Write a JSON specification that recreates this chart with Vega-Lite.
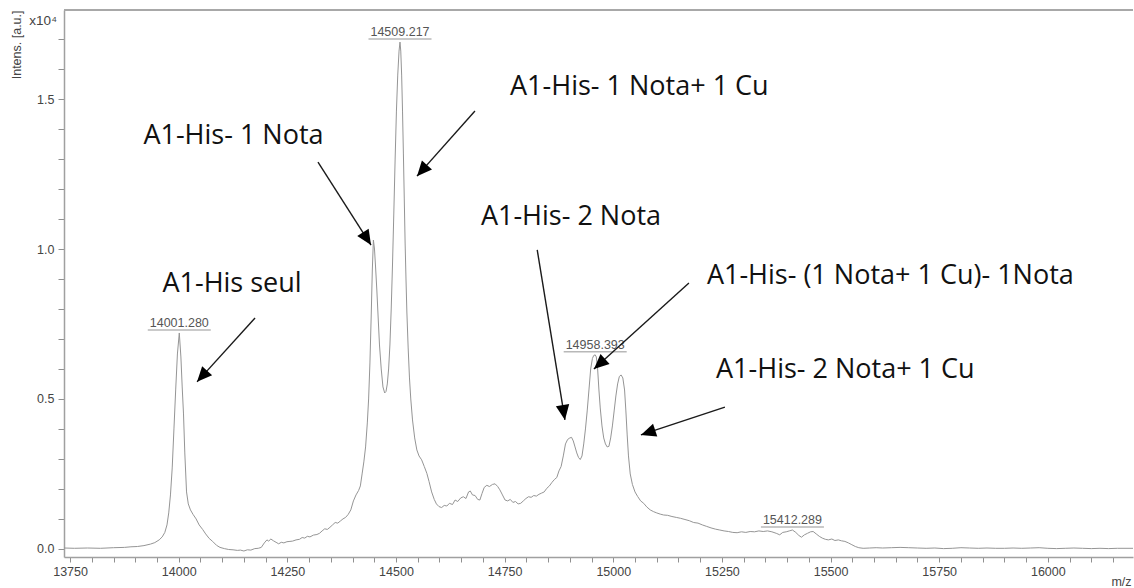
{
  "$schema": "https://vega.github.io/schema/vega-lite/v6.json",
  "width": 1069,
  "height": 547,
  "autosize": "none",
  "padding": {"left": 64, "top": 10, "right": 1, "bottom": 31},
  "background": "white",
  "config": {
    "view": {"stroke": null},
    "axis": {
      "grid": false,
      "labelOverlap": false,
      "domainColor": "#a0a0a0",
      "domainWidth": 1.5,
      "tickColor": "#909090",
      "labelColor": "#444444",
      "labelFont": "Liberation Sans",
      "labelFontSize": 12.5,
      "titleFont": "Liberation Sans",
      "titleFontSize": 12.5,
      "titleFontWeight": "normal",
      "titleColor": "#444444"
    }
  },
  "datasets": {
    "spectrum": [
      {"mz": 13736, "i": 0.003}, {"mz": 13760, "i": 0.002}, {"mz": 13790, "i": 0.003}, {"mz": 13820, "i": 0.002},
      {"mz": 13850, "i": 0.004}, {"mz": 13875, "i": 0.005}, {"mz": 13890, "i": 0.007}, {"mz": 13905, "i": 0.008},
      {"mz": 13920, "i": 0.011}, {"mz": 13935, "i": 0.016}, {"mz": 13945, "i": 0.021}, {"mz": 13955, "i": 0.03},
      {"mz": 13962, "i": 0.04}, {"mz": 13968, "i": 0.055}, {"mz": 13973, "i": 0.08}, {"mz": 13977, "i": 0.12},
      {"mz": 13981, "i": 0.18}, {"mz": 13985, "i": 0.27}, {"mz": 13989, "i": 0.4}, {"mz": 13993, "i": 0.53},
      {"mz": 13997, "i": 0.65}, {"mz": 14001.3, "i": 0.72}, {"mz": 14005, "i": 0.64}, {"mz": 14008, "i": 0.54},
      {"mz": 14011, "i": 0.45}, {"mz": 14014, "i": 0.32}, {"mz": 14018, "i": 0.19}, {"mz": 14022, "i": 0.15},
      {"mz": 14027, "i": 0.13}, {"mz": 14033, "i": 0.115}, {"mz": 14040, "i": 0.1}, {"mz": 14047, "i": 0.08},
      {"mz": 14055, "i": 0.065}, {"mz": 14062, "i": 0.05}, {"mz": 14070, "i": 0.035}, {"mz": 14078, "i": 0.025},
      {"mz": 14087, "i": 0.012}, {"mz": 14095, "i": 0.005}, {"mz": 14105, "i": 0.001}, {"mz": 14115, "i": -0.002},
      {"mz": 14125, "i": -0.003}, {"mz": 14135, "i": -0.005}, {"mz": 14142, "i": -0.004}, {"mz": 14150, "i": -0.007},
      {"mz": 14158, "i": -0.003}, {"mz": 14166, "i": -0.004}, {"mz": 14175, "i": 0.001}, {"mz": 14183, "i": 0.002},
      {"mz": 14190, "i": 0.005}, {"mz": 14197, "i": 0.02}, {"mz": 14203, "i": 0.03}, {"mz": 14207, "i": 0.026},
      {"mz": 14212, "i": 0.033}, {"mz": 14218, "i": 0.027}, {"mz": 14224, "i": 0.022}, {"mz": 14230, "i": 0.017},
      {"mz": 14236, "i": 0.022}, {"mz": 14242, "i": 0.02}, {"mz": 14249, "i": 0.024}, {"mz": 14256, "i": 0.025},
      {"mz": 14262, "i": 0.026}, {"mz": 14270, "i": 0.03}, {"mz": 14278, "i": 0.032}, {"mz": 14284, "i": 0.038},
      {"mz": 14290, "i": 0.036}, {"mz": 14296, "i": 0.042}, {"mz": 14302, "i": 0.04}, {"mz": 14310, "i": 0.046},
      {"mz": 14318, "i": 0.048}, {"mz": 14324, "i": 0.052}, {"mz": 14330, "i": 0.06}, {"mz": 14336, "i": 0.067},
      {"mz": 14342, "i": 0.065}, {"mz": 14348, "i": 0.072}, {"mz": 14354, "i": 0.08}, {"mz": 14360, "i": 0.088},
      {"mz": 14366, "i": 0.086}, {"mz": 14372, "i": 0.093}, {"mz": 14378, "i": 0.1}, {"mz": 14384, "i": 0.105},
      {"mz": 14390, "i": 0.115}, {"mz": 14396, "i": 0.13}, {"mz": 14402, "i": 0.16}, {"mz": 14408, "i": 0.18},
      {"mz": 14414, "i": 0.195}, {"mz": 14418, "i": 0.21}, {"mz": 14422, "i": 0.25}, {"mz": 14426, "i": 0.29},
      {"mz": 14430, "i": 0.34}, {"mz": 14434, "i": 0.42}, {"mz": 14437, "i": 0.5}, {"mz": 14440, "i": 0.62},
      {"mz": 14443, "i": 0.78}, {"mz": 14445.5, "i": 0.93}, {"mz": 14448, "i": 1.03}, {"mz": 14450.5, "i": 1.0},
      {"mz": 14453, "i": 0.94}, {"mz": 14456, "i": 0.86}, {"mz": 14459, "i": 0.77}, {"mz": 14462, "i": 0.68},
      {"mz": 14466, "i": 0.6}, {"mz": 14470, "i": 0.54}, {"mz": 14474, "i": 0.52}, {"mz": 14477, "i": 0.525},
      {"mz": 14480, "i": 0.55}, {"mz": 14483, "i": 0.6}, {"mz": 14486, "i": 0.68}, {"mz": 14489, "i": 0.8},
      {"mz": 14492, "i": 0.95}, {"mz": 14495, "i": 1.12}, {"mz": 14498, "i": 1.3}, {"mz": 14501, "i": 1.46},
      {"mz": 14504, "i": 1.58}, {"mz": 14507, "i": 1.66}, {"mz": 14509.2, "i": 1.69}, {"mz": 14511, "i": 1.66},
      {"mz": 14513, "i": 1.58}, {"mz": 14515, "i": 1.46}, {"mz": 14517, "i": 1.32}, {"mz": 14519, "i": 1.17},
      {"mz": 14521, "i": 1.02}, {"mz": 14523, "i": 0.9}, {"mz": 14525, "i": 0.79}, {"mz": 14528, "i": 0.67},
      {"mz": 14531, "i": 0.57}, {"mz": 14534, "i": 0.5}, {"mz": 14538, "i": 0.43}, {"mz": 14543, "i": 0.37},
      {"mz": 14548, "i": 0.33}, {"mz": 14553, "i": 0.31}, {"mz": 14559, "i": 0.297}, {"mz": 14565, "i": 0.275},
      {"mz": 14571, "i": 0.252}, {"mz": 14576, "i": 0.225}, {"mz": 14582, "i": 0.19}, {"mz": 14588, "i": 0.165},
      {"mz": 14593, "i": 0.15}, {"mz": 14599, "i": 0.141}, {"mz": 14605, "i": 0.138}, {"mz": 14611, "i": 0.145},
      {"mz": 14617, "i": 0.143}, {"mz": 14623, "i": 0.152}, {"mz": 14630, "i": 0.148}, {"mz": 14636, "i": 0.163},
      {"mz": 14642, "i": 0.158}, {"mz": 14649, "i": 0.17}, {"mz": 14655, "i": 0.174}, {"mz": 14661, "i": 0.168},
      {"mz": 14667, "i": 0.19}, {"mz": 14671, "i": 0.193}, {"mz": 14676, "i": 0.18}, {"mz": 14682, "i": 0.178},
      {"mz": 14688, "i": 0.165}, {"mz": 14693, "i": 0.163}, {"mz": 14698, "i": 0.185}, {"mz": 14703, "i": 0.205},
      {"mz": 14709, "i": 0.212}, {"mz": 14715, "i": 0.208}, {"mz": 14722, "i": 0.215}, {"mz": 14728, "i": 0.217},
      {"mz": 14734, "i": 0.208}, {"mz": 14739, "i": 0.197}, {"mz": 14745, "i": 0.18}, {"mz": 14751, "i": 0.163},
      {"mz": 14757, "i": 0.16}, {"mz": 14763, "i": 0.165}, {"mz": 14769, "i": 0.155}, {"mz": 14775, "i": 0.158},
      {"mz": 14781, "i": 0.15}, {"mz": 14787, "i": 0.152}, {"mz": 14793, "i": 0.16}, {"mz": 14799, "i": 0.168},
      {"mz": 14805, "i": 0.174}, {"mz": 14811, "i": 0.172}, {"mz": 14817, "i": 0.178}, {"mz": 14823, "i": 0.176},
      {"mz": 14829, "i": 0.182}, {"mz": 14835, "i": 0.186}, {"mz": 14841, "i": 0.19}, {"mz": 14847, "i": 0.202},
      {"mz": 14853, "i": 0.21}, {"mz": 14859, "i": 0.222}, {"mz": 14865, "i": 0.232}, {"mz": 14870, "i": 0.238},
      {"mz": 14875, "i": 0.26}, {"mz": 14880, "i": 0.275}, {"mz": 14885, "i": 0.31}, {"mz": 14890, "i": 0.35},
      {"mz": 14895, "i": 0.365}, {"mz": 14900, "i": 0.37}, {"mz": 14904, "i": 0.372}, {"mz": 14908, "i": 0.36},
      {"mz": 14912, "i": 0.34}, {"mz": 14916, "i": 0.32}, {"mz": 14920, "i": 0.305}, {"mz": 14924, "i": 0.298},
      {"mz": 14928, "i": 0.31}, {"mz": 14932, "i": 0.35}, {"mz": 14936, "i": 0.4}, {"mz": 14940, "i": 0.46},
      {"mz": 14944, "i": 0.53}, {"mz": 14948, "i": 0.6}, {"mz": 14952, "i": 0.635}, {"mz": 14955, "i": 0.645},
      {"mz": 14958.4, "i": 0.647}, {"mz": 14961, "i": 0.64}, {"mz": 14964, "i": 0.6}, {"mz": 14967, "i": 0.53},
      {"mz": 14970, "i": 0.47}, {"mz": 14974, "i": 0.41}, {"mz": 14978, "i": 0.37}, {"mz": 14982, "i": 0.35},
      {"mz": 14986, "i": 0.34}, {"mz": 14990, "i": 0.342}, {"mz": 14994, "i": 0.37}, {"mz": 14998, "i": 0.41},
      {"mz": 15002, "i": 0.46}, {"mz": 15006, "i": 0.51}, {"mz": 15010, "i": 0.55}, {"mz": 15014, "i": 0.575},
      {"mz": 15018, "i": 0.58}, {"mz": 15022, "i": 0.57}, {"mz": 15026, "i": 0.53}, {"mz": 15029, "i": 0.46},
      {"mz": 15032, "i": 0.38}, {"mz": 15035, "i": 0.31}, {"mz": 15039, "i": 0.25}, {"mz": 15044, "i": 0.215},
      {"mz": 15050, "i": 0.19}, {"mz": 15056, "i": 0.175}, {"mz": 15063, "i": 0.16}, {"mz": 15070, "i": 0.152},
      {"mz": 15077, "i": 0.14}, {"mz": 15085, "i": 0.13}, {"mz": 15093, "i": 0.124}, {"mz": 15100, "i": 0.12},
      {"mz": 15108, "i": 0.116}, {"mz": 15116, "i": 0.113}, {"mz": 15125, "i": 0.112}, {"mz": 15135, "i": 0.108},
      {"mz": 15145, "i": 0.105}, {"mz": 15155, "i": 0.102}, {"mz": 15165, "i": 0.098}, {"mz": 15175, "i": 0.094},
      {"mz": 15185, "i": 0.088}, {"mz": 15195, "i": 0.086}, {"mz": 15205, "i": 0.08}, {"mz": 15215, "i": 0.075},
      {"mz": 15225, "i": 0.07}, {"mz": 15235, "i": 0.066}, {"mz": 15245, "i": 0.063}, {"mz": 15255, "i": 0.06},
      {"mz": 15265, "i": 0.058}, {"mz": 15275, "i": 0.055}, {"mz": 15285, "i": 0.054}, {"mz": 15295, "i": 0.057},
      {"mz": 15305, "i": 0.055}, {"mz": 15315, "i": 0.058}, {"mz": 15325, "i": 0.057}, {"mz": 15335, "i": 0.06},
      {"mz": 15345, "i": 0.058}, {"mz": 15355, "i": 0.06}, {"mz": 15365, "i": 0.057}, {"mz": 15375, "i": 0.052},
      {"mz": 15383, "i": 0.047}, {"mz": 15390, "i": 0.055}, {"mz": 15398, "i": 0.057}, {"mz": 15405, "i": 0.06},
      {"mz": 15412.3, "i": 0.063}, {"mz": 15420, "i": 0.055}, {"mz": 15427, "i": 0.045}, {"mz": 15433, "i": 0.039},
      {"mz": 15440, "i": 0.047}, {"mz": 15447, "i": 0.052}, {"mz": 15454, "i": 0.057}, {"mz": 15460, "i": 0.058},
      {"mz": 15467, "i": 0.05}, {"mz": 15474, "i": 0.042}, {"mz": 15481, "i": 0.036}, {"mz": 15488, "i": 0.032},
      {"mz": 15495, "i": 0.03}, {"mz": 15503, "i": 0.033}, {"mz": 15510, "i": 0.028}, {"mz": 15518, "i": 0.03},
      {"mz": 15525, "i": 0.027}, {"mz": 15533, "i": 0.025}, {"mz": 15541, "i": 0.02}, {"mz": 15549, "i": 0.014},
      {"mz": 15557, "i": 0.008}, {"mz": 15565, "i": 0.004}, {"mz": 15575, "i": 0.002}, {"mz": 15590, "i": 0.003},
      {"mz": 15605, "i": 0.004}, {"mz": 15620, "i": 0.003}, {"mz": 15640, "i": 0.004}, {"mz": 15660, "i": 0.005},
      {"mz": 15680, "i": 0.004}, {"mz": 15700, "i": 0.003}, {"mz": 15720, "i": 0.002}, {"mz": 15740, "i": 0.003},
      {"mz": 15760, "i": 0.001}, {"mz": 15780, "i": 0.002}, {"mz": 15800, "i": 0.004}, {"mz": 15820, "i": 0.003},
      {"mz": 15840, "i": 0.002}, {"mz": 15860, "i": 0.003}, {"mz": 15880, "i": 0.002}, {"mz": 15900, "i": 0.002},
      {"mz": 15920, "i": 0.003}, {"mz": 15940, "i": 0.002}, {"mz": 15960, "i": 0.003}, {"mz": 15980, "i": 0.004},
      {"mz": 16000, "i": 0.002}, {"mz": 16020, "i": 0.001}, {"mz": 16040, "i": 0.002}, {"mz": 16060, "i": 0.003},
      {"mz": 16080, "i": 0.002}, {"mz": 16100, "i": 0.001}, {"mz": 16120, "i": 0.002}, {"mz": 16140, "i": 0.001},
      {"mz": 16160, "i": 0.002}, {"mz": 16196, "i": 0.002}
    ],
    "peaks": [
      {"mz": 14001.28, "i": 0.72, "label": "14001.280"},
      {"mz": 14509.217, "i": 1.69, "label": "14509.217"},
      {"mz": 14958.393, "i": 0.647, "label": "14958.393"},
      {"mz": 15412.289, "i": 0.063, "label": "15412.289"}
    ],
    "notes": [
      {"mz": 14122.7, "i": 0.883, "text": "A1-His seul"},
      {"mz": 14126, "i": 1.377, "text": "A1-His- 1 Nota"},
      {"mz": 15060, "i": 1.54, "text": "A1-His- 1 Nota+ 1 Cu"},
      {"mz": 14902.6, "i": 1.107, "text": "A1-His- 2 Nota"},
      {"mz": 15637.6, "i": 0.91, "text": "A1-His- (1 Nota+ 1 Cu)- 1Nota"},
      {"mz": 15534, "i": 0.597, "text": "A1-His- 2 Nota+ 1 Cu"}
    ],
    "arrows": [
      {"mz0": 14175.6, "i0": 0.77, "mz1": 14042.2, "i1": 0.557},
      {"mz0": 14320.5, "i0": 1.29, "mz1": 14442.5, "i1": 1.013},
      {"mz0": 14681.7, "i0": 1.46, "mz1": 14548.3, "i1": 1.243},
      {"mz0": 14825, "i0": 0.997, "mz1": 14888.8, "i1": 0.43},
      {"mz0": 15174.1, "i0": 0.887, "mz1": 14955.5, "i1": 0.6},
      {"mz0": 15256.9, "i0": 0.473, "mz1": 15063.6, "i1": 0.38}
    ],
    "unit": [
      {"mz": 13688, "i": 1.76, "text": "x10⁴"}
    ]
  },
  "layer": [
    {
      "data": {"name": "spectrum"},
      "mark": {"type": "rule", "color": "#a8a8a8", "strokeWidth": 1.5},
      "encoding": {
        "y": {"datum": 1.797, "type": "quantitative"}
      }
    },
    {
      "data": {"name": "spectrum"},
      "mark": {"type": "line", "color": "#959595", "strokeWidth": 1},
      "encoding": {
        "x": {
          "field": "mz", "type": "quantitative",
          "scale": {"domain": [13736, 16196], "nice": false, "zero": false},
          "axis": {
            "title": "m/z",
            "titleX": 1057, "titleY": 24, "titleAlign": "center", "titleBaseline": "middle",
            "values": [13750, 13800, 13850, 13900, 13950, 14000, 14050, 14100, 14150, 14200, 14250, 14300, 14350, 14400, 14450, 14500, 14550, 14600, 14650, 14700, 14750, 14800, 14850, 14900, 14950, 15000, 15050, 15100, 15150, 15200, 15250, 15300, 15350, 15400, 15450, 15500, 15550, 15600, 15650, 15700, 15750, 15800, 15850, 15900, 15950, 16000, 16050, 16100, 16150],
            "tickCount": 1000,
            "labelExpr": "datum.value % 250 === 0 ? datum.value + '' : ''",
            "tickSize": 5,
            "labelPadding": 3,
            "labelFlush": false,
            "labelOverlap": false
          }
        },
        "y": {
          "field": "i", "type": "quantitative",
          "scale": {"domain": [-0.027, 1.797], "nice": false, "zero": false},
          "axis": {
            "title": "Intens. [a.u.]",
            "titleAngle": -90, "titleX": -48, "titleY": 0, "titleAlign": "right", "titleBaseline": "middle",
            "values": [0, 0.1, 0.2, 0.3, 0.4, 0.5, 0.6, 0.7, 0.8, 0.9, 1.0, 1.1, 1.2, 1.3, 1.4, 1.5, 1.6, 1.7],
            "tickCount": 1000,
            "labelExpr": "abs(round(datum.value * 10) % 5) === 0 ? format(datum.value, '.1f') : ''",
            "tickSize": 6,
            "labelPadding": 4,
            "labelOverlap": false
          }
        }
      }
    },
    {
      "data": {"name": "peaks"},
      "mark": {"type": "tick", "orient": "horizontal", "size": 63, "thickness": 1.5, "color": "#9a9a9a", "yOffset": -3},
      "encoding": {
        "x": {"field": "mz", "type": "quantitative"},
        "y": {"field": "i", "type": "quantitative"}
      }
    },
    {
      "data": {"name": "peaks"},
      "mark": {"type": "text", "font": "Liberation Sans", "fontSize": 12.5, "color": "#555555", "baseline": "alphabetic", "align": "center", "dy": -6},
      "encoding": {
        "x": {"field": "mz", "type": "quantitative"},
        "y": {"field": "i", "type": "quantitative"},
        "text": {"field": "label"}
      }
    },
    {
      "data": {"name": "arrows"},
      "mark": {"type": "rule", "color": "#1a1a1a", "strokeWidth": 1.4},
      "encoding": {
        "x": {"field": "mz0", "type": "quantitative"},
        "y": {"field": "i0", "type": "quantitative"},
        "x2": {"field": "mz1"},
        "y2": {"field": "i1"}
      }
    },
    {
      "data": {"name": "arrows"},
      "transform": [
        {"calculate": "(atan2((datum.mz1 - datum.mz0) * 0.43467, (datum.i1 - datum.i0) * 300) * 180 / PI + 360) % 360", "as": "heading"}
      ],
      "mark": {"type": "point", "shape": "M0,0L-0.45,1L0.45,1Z", "filled": true, "color": "#000000", "opacity": 1, "size": 900, "strokeWidth": 0},
      "encoding": {
        "x": {"field": "mz1", "type": "quantitative"},
        "y": {"field": "i1", "type": "quantitative"},
        "angle": {"field": "heading", "type": "quantitative", "scale": null}
      }
    },
    {
      "data": {"name": "notes"},
      "mark": {"type": "text", "font": "Open Sans", "fontSize": 27, "color": "#111111", "align": "center", "baseline": "middle"},
      "encoding": {
        "x": {"field": "mz", "type": "quantitative"},
        "y": {"field": "i", "type": "quantitative"},
        "text": {"field": "text"}
      }
    },
    {
      "data": {"name": "unit"},
      "mark": {"type": "text", "font": "Liberation Sans", "fontSize": 13.5, "color": "#444444", "align": "center", "baseline": "middle"},
      "encoding": {
        "x": {"field": "mz", "type": "quantitative"},
        "y": {"field": "i", "type": "quantitative"},
        "text": {"field": "text"}
      }
    }
  ]
}
